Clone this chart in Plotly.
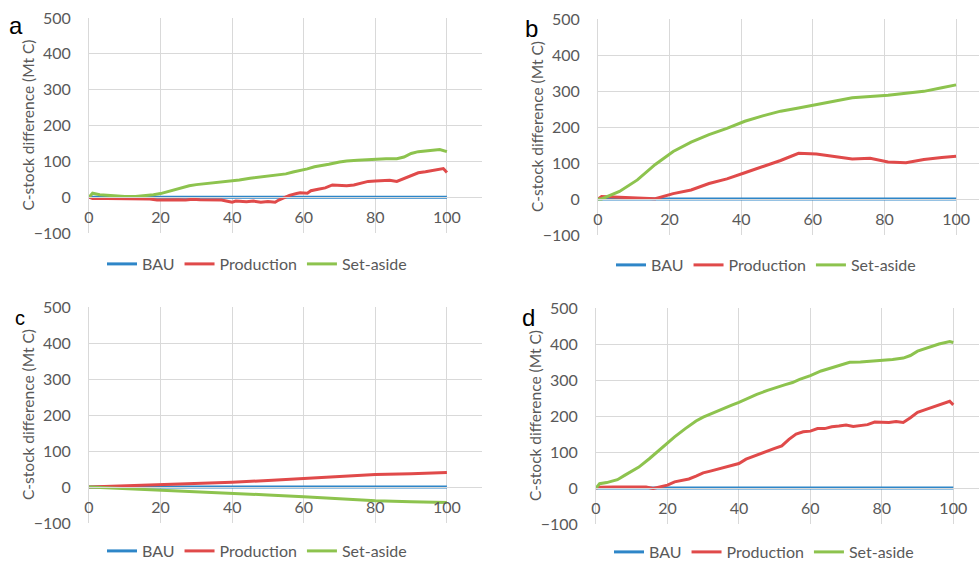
import plotly.graph_objects as go

# ---------------- data ----------------
series_names = ["BAU", "Production", "Set-aside"]
panel_labels = ["a", "b", "c", "d"]
x_ticks = [0, 20, 40, 60, 80, 100]
y_ticks = [-100, 0, 100, 200, 300, 400, 500]
y_title = "C-stock difference (Mt C)"

bau_x = [0, 100]
bau_y = [0, 0]

# panel a
a_prod_x = [0, 1, 5, 10, 15, 17, 19, 21, 23, 25, 27, 29, 31, 33, 35, 37, 39, 40, 41, 43, 44, 46, 48, 50, 52,
            53, 54, 56, 58, 59, 61, 62, 64, 66, 68, 70, 72, 74, 76, 78, 80, 82, 84, 86, 88, 90, 92, 94, 96, 98, 99, 100]
a_prod_y = [0, -4, -4, -4, -4, -5, -8, -7, -6, -7, -8, -6, -7, -8, -7, -8, -12, -14, -11, -12, -13, -11, -14, -12, -14,
            -8, -4, 5, 10, 12, 11, 18, 22, 26, 34, 33, 32, 34, 40, 44, 45, 47, 47, 44, 52, 62, 68, 71, 74, 77, 80, 69]
a_set_x = [0, 1, 3, 6, 10, 13, 16, 18, 20, 23, 26, 28, 30, 33, 36, 40, 42, 45, 48, 50, 52, 55, 57, 59, 61, 63,
           65, 67, 70, 72, 75, 78, 80, 83, 86, 88, 90, 92, 94, 96, 98, 100]
a_set_y = [0, 11, 7, 4, 2, 2, 4, 7, 10, 19, 27, 32, 35, 38, 41, 44, 48, 53, 57, 59, 61, 65, 70, 74, 79, 85,
           88, 92, 98, 101, 103, 105, 106, 107, 107, 112, 122, 127, 129, 131, 133, 127]

# panel b
b_x = [0, 1, 6, 11, 16, 21, 26, 31, 36, 41, 46, 51, 56, 61, 66, 71, 76, 81, 86, 91, 96, 100]
b_prod_y = [0, 7, 5, 2, 1, 15, 25, 43, 56, 73, 90, 107, 127, 125, 118, 111, 113, 103, 101, 110, 115, 119]
b_set_y = [0, 0, 21, 53, 96, 132, 158, 179, 196, 216, 231, 244, 253, 262, 273, 281, 285, 288, 294, 299, 309, 317]

# panel c
c_x = [0, 10, 20, 30, 40, 50, 60, 70, 80, 90, 100]
c_prod_y = [0, 3, 5, 9, 13, 18, 23, 29, 35, 37, 40]
c_set_y = [0, -4, -8, -13, -17, -22, -27, -33, -38, -41, -43]

# panel d
d_prod_x = [0, 1, 5, 10, 14, 16, 18, 20, 22, 24, 26, 28, 30, 32, 34, 36, 38, 40, 42, 44, 46, 48, 50, 52, 54,
            56, 58, 60, 62, 64, 66, 68, 70, 72, 74, 76, 78, 80, 82, 84, 86, 88, 90, 92, 94, 96, 98, 99, 100]
d_prod_y = [0, 2, 3, 3, 3, -1, 3, 8, 17, 21, 25, 33, 42, 47, 52, 58, 63, 68, 80, 88, 96, 103, 110, 117, 135,
            150, 156, 158, 165, 165, 170, 172, 175, 171, 173, 176, 183, 183, 182, 185, 182, 195, 210, 217, 224, 232, 238, 241, 231]
d_set_x = [0, 1, 3, 6, 8, 10, 12, 15, 18, 20, 22, 25, 28, 30, 33, 35, 38, 40, 43, 45, 48, 50, 53, 55, 57,
           60, 63, 66, 69, 71, 74, 77, 80, 83, 86, 88, 90, 92, 94, 96, 99, 100]
d_set_y = [0, 12, 15, 23, 35, 46, 58, 82, 108, 126, 142, 165, 186, 197, 210, 218, 230, 238, 252, 260, 271, 278, 287, 293, 302,
           312, 325, 334, 343, 349, 350, 352, 354, 357, 361, 368, 380, 387, 394, 400, 407, 404]

panels = [
    (bau_x, bau_y, a_prod_x, a_prod_y, a_set_x, a_set_y),
    (bau_x, bau_y, b_x, b_prod_y, b_x, b_set_y),
    (bau_x, bau_y, c_x, c_prod_y, c_x, c_set_y),
    (bau_x, bau_y, d_prod_x, d_prod_y, d_set_x, d_set_y),
]

# ---------------- style / layout ----------------
W, H = 979, 563
colors = ["#2E86C8", "#E04A4A", "#8DC34E"]
grid = "#D9D9D9"
tick_col = "#595959"
font_fam = "Lato"
Y_MIN, Y_MAX = -100, 500
FS = 16

# plot-area boxes in pixels: left, right, top, bottom ; x-range max
boxes = [
    (89, 482, 18, 233, 109.8),
    (598, 979, 19, 235, 106.4),
    (89, 482, 307, 523, 109.8),
    (596, 979, 308, 524, 107.2),
]
legend_pos = [(257, 264), (766, 265), (257, 551), (764, 552)]
label_pos = [(16, 25, 24), (531, 28, 24), (20, 318, 20), (528, 317, 24)]
title_offset = 61  # px left of plot area

fig = go.Figure()
layout = dict(width=W, height=H, margin=dict(l=0, r=0, t=0, b=0, autoexpand=False),
              paper_bgcolor="white", plot_bgcolor="white",
              font=dict(family=font_fam, color=tick_col, size=FS),
              annotations=[])

for i, (bx, by, px, py, sx, sy) in enumerate(panels):
    n = "" if i == 0 else str(i + 1)
    xa, ya = "x" + n, "y" + n
    leg = "legend" + n
    for name, xs, ys, c in zip(series_names, [bx, px, sx], [by, py, sy], colors):
        fig.add_trace(go.Scatter(x=xs, y=ys, mode="lines", name=name,
                                 line=dict(color=c, width=3),
                                 xaxis=xa, yaxis=ya, legend=leg))
    l, r, t, b, xmax = boxes[i]
    ydom = [1 - b / H, 1 - t / H]
    zero_pos = ydom[0] + (0 - Y_MIN) / (Y_MAX - Y_MIN) * (ydom[1] - ydom[0])
    layout["xaxis" + n] = dict(domain=[l / W, r / W], range=[0, xmax], tickvals=x_ticks,
                               showgrid=True, gridcolor=grid, gridwidth=1,
                               anchor="free", position=zero_pos, automargin=False,
                               showline=True, linecolor=grid, linewidth=1,
                               zeroline=False, ticks="outside", ticklen=0, ticklabelstandoff=6,
                               tickfont=dict(size=FS, color=tick_col))
    layout["yaxis" + n] = dict(domain=ydom, range=[Y_MIN, Y_MAX], tickvals=y_ticks,
                               showgrid=True, gridcolor=grid, gridwidth=1, automargin=False,
                               anchor=xa, showline=True, linecolor=grid, linewidth=1,
                               zeroline=True, zerolinecolor=grid, zerolinewidth=1,
                               ticks="outside", ticklen=0, ticklabelstandoff=14,
                               tickfont=dict(size=FS, color=tick_col))
    layout["annotations"].append(dict(text=y_title, textangle=-90, x=(l - title_offset) / W,
                                      y=(ydom[0] + ydom[1]) / 2, xref="paper", yref="paper",
                                      showarrow=False, xanchor="center", yanchor="middle",
                                      font=dict(size=15.5, color=tick_col, family=font_fam)))
    lx, ly = legend_pos[i]
    layout[leg] = dict(orientation="h", x=lx / W, y=1 - ly / H, xanchor="center", yanchor="middle",
                       font=dict(size=FS, color=tick_col), bgcolor="rgba(0,0,0,0)", itemwidth=30)
    ax, ay, fs = label_pos[i]
    layout["annotations"].append(dict(text=panel_labels[i], x=ax / W, y=1 - ay / H, xref="paper", yref="paper",
                                      showarrow=False, xanchor="center", yanchor="middle",
                                      font=dict(size=fs, color="black", family="Liberation Sans")))

fig.update_layout(**layout)
fig.write_html("out.html")
